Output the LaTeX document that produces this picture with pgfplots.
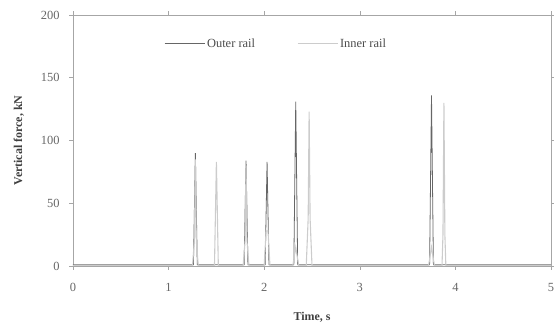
\documentclass[border=0pt]{standalone}
\usepackage{fontspec}
\setmainfont{Liberation Serif}
\usepackage{pgfplots}
\pgfplotsset{compat=1.18}
\begin{document}
\begin{tikzpicture}
\begin{axis}[
  name=ax,
  scale only axis, width=478bp, height=251bp,
  xmin=0, xmax=5, ymin=0, ymax=200,
  xtick={0,1,2,3,4,5}, ytick={0,50,100,150,200},
  tick align=outside, tick style={gray!70, line width=0.6pt}, major tick length=4pt,
  axis line style={gray!70, line width=0.8pt},
  tick label style={font=\fontsize{12.5}{14}\selectfont, text=black!60},
  /pgf/number format/assume math mode=true,
  xlabel={\textbf{Time, s}}, ylabel={\textbf{Vertical force, kN}},
  label style={font=\fontsize{12}{14}\selectfont, text=black!75},
  xlabel style={at={(ticklabel cs:0.5)}, anchor=north, yshift=-14pt},
  ylabel style={at={(ticklabel cs:0.5)}, anchor=south, yshift=10pt},
  xticklabel style={yshift=-10pt},
  yticklabel style={xshift=-6pt},
  legend columns=2,
  legend style={at={(0.425,0.885)}, anchor=center, draw=none, fill=none,
    font=\fontsize{12.5}{14}\selectfont, text=black!70,
    /tikz/every even column/.append style={column sep=40pt}},
  legend cell align=left,
  legend image code/.code={\draw[#1] (0bp,0bp) -- (40bp,0bp);},
]
\addplot[gray!80!black, line width=0.8pt, sharp plot] coordinates {
 (0,1)(1.26,1)(1.28,90)(1.30,1)(1.79,1)(1.81,84)(1.83,1)(2.01,1)(2.03,83)(2.05,1)
 (2.31,1)(2.33,131)(2.35,1)(3.73,1)(3.75,136)(3.77,1)(5,1)};
\addlegendentry{Outer rail}
\addplot[gray!40, line width=1.1pt, sharp plot] coordinates {
 (0,0.5)(1.25,0.5)(1.27,20)(1.28,85)(1.29,20)(1.31,0.5)
 (1.48,0.5)(1.50,83)(1.52,0.5)
 (1.78,0.5)(1.80,20)(1.81,80)(1.82,20)(1.84,0.5)
 (2.00,0.5)(2.02,28)(2.04,28)(2.06,0.5)
 (2.30,0.5)(2.33,15)(2.36,0.5)
 (2.44,0.5)(2.46,38)(2.47,123)(2.48,38)(2.50,0.5)
 (3.72,0.5)(3.75,15)(3.78,0.5)
 (3.86,0.5)(3.87,25)(3.88,130)(3.89,25)(3.90,0.5)(5,0.5)};
\addlegendentry{Inner rail}
\end{axis}
\pgfresetboundingbox
\path[use as bounding box] ([shift={(-73bp,-69bp)}]ax.south west) rectangle ([shift={(3bp,15bp)}]ax.north east);
\end{tikzpicture}
\end{document}
